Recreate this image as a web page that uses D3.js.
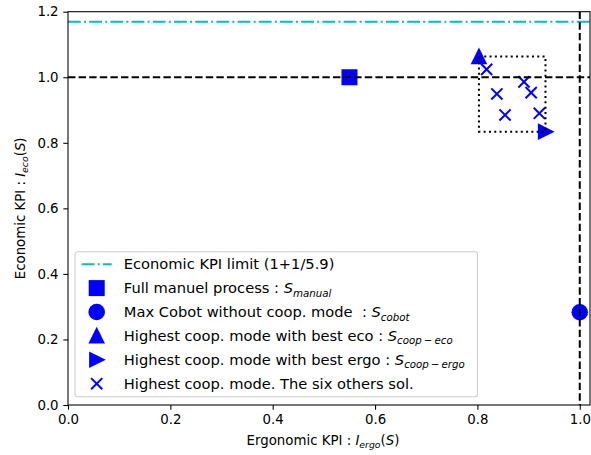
<!DOCTYPE html>
<html lang="en">
<head>
<meta charset="UTF-8">
<title>KPI chart</title>
<script src="https://d3js.org/d3.v7.min.js"></script>
<style>
  body { margin: 0; background: #fff; }
  text { font-family: "DejaVu Sans", sans-serif; white-space: pre; }
</style>
</head>
<body>
<div id="chart"></div>
<script>
// data
const manualPt = [[0.55, 1.0]];
const cobotPt = [[1.0, 0.283]];
const coopEcoPt = [[0.803, 1.063]];
const coopErgoPt = [[0.933, 0.834]];
const otherPts = [[0.818, 1.024], [0.891, 0.986], [0.838, 0.949], [0.905, 0.953], [0.854, 0.885], [0.921, 0.890]];
const ecoLimit = 1 + 1 / 5.9;
const refLines = { x: 1.0, y: 1.0 };
const boxX = [0.803, 0.933];
const boxY = [0.834, 1.063];
const xTicks = [0, 0.2, 0.4, 0.6, 0.8, 1.0];
const yTicks = [0, 0.2, 0.4, 0.6, 0.8, 1.0, 1.2];
const legendLabels = [
  ["Economic KPI limit (1+1/5.9)"],
  ["Full manuel process : ", "S", "manual"],
  ["Max Cobot without coop. mode  : ", "S", "cobot"],
  ["Highest coop. mode with best eco : ", "S", "coop\u2009\u2212\u2009eco"],
  ["Highest coop. mode with best ergo : ", "S", "coop\u2009\u2212\u2009ergo"],
  ["Highest coop. mode. The six others sol."]
];

const W = 591, H = 455;
const margin = { top: 11.7, right: 1, bottom: 50, left: 68 };
const width = W - margin.left - margin.right,
      height = H - margin.top - margin.bottom;

const x = d3.scaleLinear().domain([0, 1.02]).range([0, width]);
const y = d3.scaleLinear().domain([0, 1.2]).range([height, 0]);

const svg = d3.select("#chart").append("svg")
  .attr("width", W).attr("height", H)
  .append("g")
  .attr("transform", `translate(${margin.left},${margin.top})`);

const blue = "#0000ff", cyan = "#00bfbf";
const fs = 13.33, lfs = 14.67;

// marker shapes
const triRight = "M-7.6,-8.3L9.1,0L-7.6,8.3Z";
const triUp = "M0,-9.1L8.3,7.6L-8.3,7.6Z";
const crossPath = "M-5.6,-5.6L5.6,5.6M-5.6,5.6L5.6,-5.6";

svg.selectAll(".sq").data(manualPt).join("rect")
  .attr("x", d => x(d[0]) - 8).attr("y", d => y(d[1]) - 8)
  .attr("width", 16).attr("height", 16).attr("fill", blue);
svg.selectAll(".ci").data(cobotPt).join("circle")
  .attr("cx", d => x(d[0])).attr("cy", d => y(d[1])).attr("r", 8.3).attr("fill", blue);
svg.selectAll(".tu").data(coopEcoPt).join("path")
  .attr("d", triUp).attr("fill", blue)
  .attr("transform", d => `translate(${x(d[0])},${y(d[1])})`);
svg.selectAll(".tr").data(coopErgoPt).join("path")
  .attr("d", triRight).attr("fill", blue)
  .attr("transform", d => `translate(${x(d[0])},${y(d[1])})`);
svg.selectAll(".xx").data(otherPts).join("path")
  .attr("d", crossPath).attr("stroke", blue).attr("stroke-width", 2).attr("fill", "none")
  .attr("transform", d => `translate(${x(d[0])},${y(d[1])})`);

// reference lines
svg.append("line")
  .attr("x1", 0).attr("x2", width).attr("y1", y(ecoLimit)).attr("y2", y(ecoLimit))
  .attr("stroke", cyan).attr("stroke-width", 2).attr("stroke-dasharray", "12.8,3.2,2,3.2");
svg.append("line")
  .attr("x1", 0).attr("x2", width).attr("y1", y(refLines.y)).attr("y2", y(refLines.y))
  .attr("stroke", "#000").attr("stroke-width", 2).attr("stroke-dasharray", "7.4,3.2");
svg.append("line")
  .attr("x1", x(refLines.x)).attr("x2", x(refLines.x)).attr("y1", 0).attr("y2", height)
  .attr("stroke", "#000").attr("stroke-width", 2).attr("stroke-dasharray", "7.4,3.2");
svg.append("rect")
  .attr("x", x(boxX[0])).attr("y", y(boxY[1]))
  .attr("width", x(boxX[1]) - x(boxX[0])).attr("height", y(boxY[0]) - y(boxY[1]))
  .attr("fill", "none").attr("stroke", "#000").attr("stroke-width", 2)
  .attr("stroke-dasharray", "2,3.3");

// axes
const xAxis = svg.append("g").attr("transform", `translate(0,${height})`)
  .call(d3.axisBottom(x).tickValues(xTicks).tickFormat(d3.format(".1f")).tickSizeOuter(0).tickSize(4.7).tickPadding(4.7));
const yAxis = svg.append("g")
  .call(d3.axisLeft(y).tickValues(yTicks).tickFormat(d3.format(".1f")).tickSizeOuter(0).tickSize(4.7).tickPadding(4.7));
[xAxis, yAxis].forEach(a => {
  a.select(".domain").remove();
  a.selectAll(".tick line").attr("stroke", "#000").attr("stroke-width", 1.07);
  a.selectAll(".tick text").attr("font-size", fs).attr("fill", "#000")
    .attr("font-family", "DejaVu Sans");
});
svg.append("rect").attr("width", width).attr("height", height)
  .attr("fill", "none").attr("stroke", "#000").attr("stroke-width", 1.07);

// axis labels
const xl = svg.append("text").attr("x", width / 2 - 6).attr("y", height + 40)
  .attr("text-anchor", "middle").attr("font-size", fs);
xl.append("tspan").text("Ergonomic KPI : ");
xl.append("tspan").attr("font-style", "italic").text("I");
xl.append("tspan").attr("font-style", "italic").attr("font-size", fs * 0.7).attr("dy", 3).text("ergo");
xl.append("tspan").attr("dy", -3).text("(");
xl.append("tspan").attr("font-style", "italic").text("S");
xl.append("tspan").text(")");

const yl = svg.append("text")
  .attr("transform", `translate(-43,${height / 2}) rotate(-90)`)
  .attr("text-anchor", "middle").attr("font-size", fs);
yl.append("tspan").text("Economic KPI : ");
yl.append("tspan").attr("font-style", "italic").text("I");
yl.append("tspan").attr("font-style", "italic").attr("font-size", fs * 0.7).attr("dy", 3).text("eco");
yl.append("tspan").attr("dy", -3).text("(");
yl.append("tspan").attr("font-style", "italic").text("S");
yl.append("tspan").text(")");

// legend
const lg = svg.append("g").attr("transform", `translate(${75 - margin.left},${251.7 - margin.top})`);
lg.append("rect").attr("width", 402.5).attr("height", 145).attr("rx", 2.8)
  .attr("fill", "#fff").attr("fill-opacity", 0.8).attr("stroke", "#cccccc").attr("stroke-width", 1.07);
const rowY = i => 12.5 + i * 23.9;
const hx = 21.7;
lg.append("line").attr("x1", hx - 15).attr("x2", hx + 15).attr("y1", rowY(0)).attr("y2", rowY(0))
  .attr("stroke", cyan).attr("stroke-width", 2).attr("stroke-dasharray", "12.8,3.2,2,3.2");
lg.append("rect").attr("x", hx - 8).attr("y", rowY(1) - 8).attr("width", 16).attr("height", 16).attr("fill", blue);
lg.append("circle").attr("cx", hx).attr("cy", rowY(2)).attr("r", 8.3).attr("fill", blue);
lg.append("path").attr("d", triUp).attr("fill", blue).attr("transform", `translate(${hx},${rowY(3)})`);
lg.append("path").attr("d", triRight).attr("fill", blue).attr("transform", `translate(${hx},${rowY(4)})`);
lg.append("path").attr("d", crossPath).attr("stroke", blue).attr("stroke-width", 2).attr("fill", "none")
  .attr("transform", `translate(${hx},${rowY(5)})`);

legendLabels.forEach((lab, i) => {
  const t = lg.append("text").attr("x", 48.8).attr("y", rowY(i) + 5.3).attr("font-size", lfs);
  t.append("tspan").text(lab[0]);
  if (lab.length > 1) {
    t.append("tspan").attr("font-style", "italic").text(lab[1]);
    t.append("tspan").attr("font-style", "italic").attr("font-size", lfs * 0.7).attr("dy", 3.3).text(lab[2]);
  }
});
</script>
</body>
</html>
